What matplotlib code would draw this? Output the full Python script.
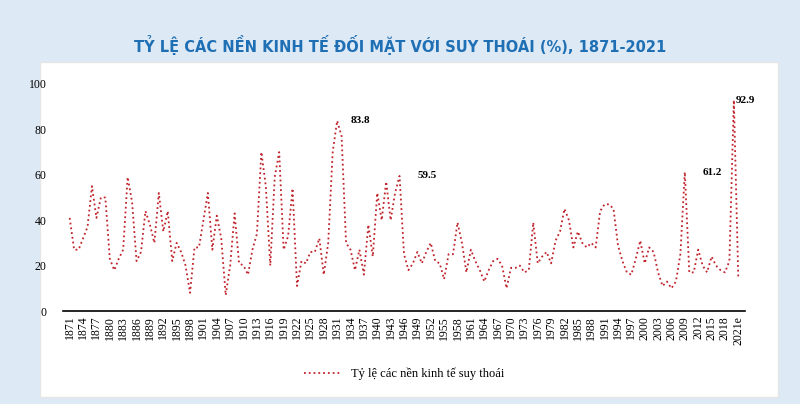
import matplotlib.pyplot as plt
import matplotlib.patches as patches

years = list(range(1871, 2022))
values = [41, 27, 27, 32, 37, 55, 41, 50, 50, 23,
          18, 23, 27, 59, 48, 22, 26, 44, 38, 30,
          52, 35, 44, 22, 30, 26, 20, 8, 28, 28,
          40, 52, 27, 42, 32, 7, 20, 43, 21, 20,
          16, 27, 34, 70, 55, 20, 59, 70, 27, 33,
          54, 11, 22, 21, 26, 26, 32, 16, 30, 70,
          83.8, 77, 30, 27, 18, 27, 16, 38, 24, 52,
          40, 57, 40, 52, 59.5, 25, 18, 21, 26, 21,
          26, 30, 22, 21, 14, 25, 25, 39, 30, 17,
          27, 22, 18, 13, 18, 22, 23, 20, 10, 19,
          19, 20, 17, 18, 39, 21, 24, 26, 21, 31,
          35, 45, 40, 28, 35, 30, 28, 30, 28, 44,
          47, 47, 45, 29, 22, 17, 16, 23, 31, 21,
          28, 26, 17, 11, 13, 10, 13, 25, 61.2, 17,
          17, 27, 20, 17, 24, 20, 18, 17, 22, 92.9, 14]
tick_years = years[::3]
tick_labels = [str(y) for y in tick_years[:-1]] + ["2021e"]
labels = {1931: "83.8", 1945: "59.5", 2009: "61.2", 2020: "92.9"}
label_pos = {1931: (1934, 83.8), 1945: (1949, 59.5), 2009: (2013, 61.2), 2020: (2020.5, 92.9)}

fig = plt.figure(figsize=(8, 4.04), dpi=100)
fig.patch.set_facecolor("#dde9f4")
fig.patches.append(patches.Rectangle((40 / 800, 7 / 404), 738 / 800, 335 / 404,
                                     transform=fig.transFigure, facecolor="white",
                                     edgecolor="#e6e6e6", zorder=-5))
fig.text(0.5, 1 - 45 / 404, "TỶ LỆ CÁC NỀN KINH TẾ ĐỐI MẶT VỚI SUY THOÁI (%), 1871-2021",
         ha="center", va="center", fontsize=10.5, fontweight="bold", color="#1f6fb5",
         family="DejaVu Sans")

ax = fig.add_axes([63 / 800, 1 - 311 / 404, 682 / 800, 227 / 404], zorder=2)
ax.patch.set_alpha(0)
ax.plot(years, values, color="#c0242c", linestyle=":", linewidth=1.3,
        label="Tỷ lệ các nền kinh tế suy thoái")
ax.set_ylim(0, 100)
ax.set_xlim(1869.5, 2022.5)
ax.set_yticks(range(0, 101, 20))
ax.set_xticks(tick_years)
ax.set_xticklabels(tick_labels, rotation=90)
for s in ["top", "right", "left"]:
    ax.spines[s].set_visible(False)
ax.spines["bottom"].set_linewidth(1.2)
ax.tick_params(axis="both", length=0, labelsize=8.5)
ax.tick_params(axis="y", pad=12)
for lab in ax.get_xticklabels() + ax.get_yticklabels():
    lab.set_family("Liberation Serif")
for yr, txt in labels.items():
    x, y = label_pos[yr]
    ax.text(x, y, txt, fontsize=8, fontweight="bold", family="Liberation Serif",
            ha="left", va="center")
leg = ax.legend(loc="upper center", bbox_to_anchor=(0.5, -0.2), frameon=False,
                prop={"family": "Liberation Serif", "size": 9}, handlelength=3)

fig.savefig("out.png", dpi=100, facecolor=fig.get_facecolor())
